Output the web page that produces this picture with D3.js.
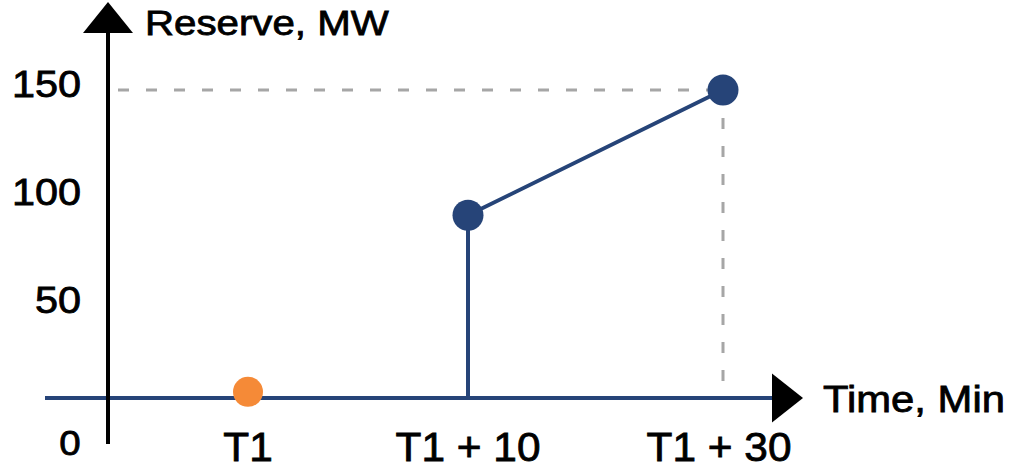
<!DOCTYPE html>
<html><head><meta charset="utf-8">
<script src="https://cdn.jsdelivr.net/npm/d3@7"></script>
<style>body{margin:0;background:#fff}svg{display:block}</style></head>
<body><svg id="c" width="1013" height="469"></svg>
<script>
// ---- data ----
const xLabels = ["T1", "T1 + 10", "T1 + 30"];
const xMinutes = [0, 10, 30];
const yTicks = [50, 100, 150];
const reserveStepT = [10, 10, 30];
const reserveStepV = [0, 89, 150];
const reservePointT = [10, 30];
const reservePointV = [89, 150];
const startT = [0];
const startV = [3];
const yTitle = "Reserve, MW";
const xTitle = "Time, Min";
const originLabel = "0";

// ---- layout ----
const svg = d3.select("#c");
const navy = "#264478", orange = "#f58a37", grey = "#a6a6a6";
const font = "'Liberation Sans', Arial, sans-serif";

const y = d3.scaleLinear().domain([0, 150]).range([398, 90]);
const yLab = d3.scaleLinear().domain([50, 150]).range([313, 97]);
const x = d3.scaleLinear().domain(xMinutes).range([248, 468, 723]);
const axisX = 108;

function stretchedText(g, tx, ty, txt, size, sx, anchor) {
  g.append("text")
    .attr("transform", `translate(${tx},${ty}) scale(${sx},1)`)
    .attr("text-anchor", anchor)
    .attr("font-family", font)
    .attr("font-size", size)
    .attr("fill", "#000")
    .attr("stroke", "#000")
    .attr("stroke-width", 0.8)
    .text(txt);
}

// dashed guides
const peakT = reservePointT[1], peakV = reservePointV[1];
svg.append("line").attr("x1", 118).attr("x2", x(peakT))
  .attr("y1", y(peakV)).attr("y2", y(peakV))
  .attr("stroke", grey).attr("stroke-width", 3).attr("stroke-dasharray", "11,17");
svg.append("line").attr("x1", x(peakT)).attr("x2", x(peakT))
  .attr("y1", y(peakV)).attr("y2", y(0))
  .attr("stroke", grey).attr("stroke-width", 3).attr("stroke-dasharray", "11,17");

// x axis line (navy) + arrow
svg.append("line").attr("x1", 45).attr("x2", 772).attr("y1", y(0)).attr("y2", y(0))
  .attr("stroke", navy).attr("stroke-width", 4);
svg.append("path")
  .attr("d", `M772,${y(0) - 24.5}L772,${y(0) + 24.5}L803,${y(0)}Z`).attr("fill", "#000");

// y axis line (black) + arrow
svg.append("line").attr("x1", axisX).attr("x2", axisX).attr("y1", 30).attr("y2", 444)
  .attr("stroke", "#000").attr("stroke-width", 4);
svg.append("path").attr("d", `M${axisX - 25},33L${axisX + 25},33L${axisX},2Z`).attr("fill", "#000");

// titles
stretchedText(svg, 145, 35, yTitle, 35, 1.15, "start");
stretchedText(svg, 823, 412, xTitle, 37, 1.13, "start");

// y tick labels
yTicks.forEach(v => stretchedText(svg, 81, yLab(v), String(v), 37, 1.12, "end"));
stretchedText(svg, 70, 455, originLabel, 35, 1.1, "middle");

// x tick labels
xMinutes.forEach((m, i) => stretchedText(svg, x(m) - (i === 2 ? 4 : 0), 460.5, xLabels[i], 40, 1.06, "middle"));

// reserve step line
const stepData = reserveStepT.map((t, i) => [x(t), y(reserveStepV[i])]);
svg.append("path").attr("d", d3.line()(stepData))
  .attr("fill", "none").attr("stroke", navy).attr("stroke-width", 4);

// points
svg.selectAll("circle.res").data(reservePointT.map((t, i) => ({t, v: reservePointV[i]})))
  .enter().append("circle").attr("class", "res")
  .attr("cx", d => x(d.t)).attr("cy", d => y(d.v)).attr("r", 15.5).attr("fill", navy);
svg.selectAll("circle.start").data(startT.map((t, i) => ({t, v: startV[i]})))
  .enter().append("circle").attr("class", "start")
  .attr("cx", d => x(d.t)).attr("cy", d => y(d.v)).attr("r", 15).attr("fill", orange);
</script>
</body></html>
